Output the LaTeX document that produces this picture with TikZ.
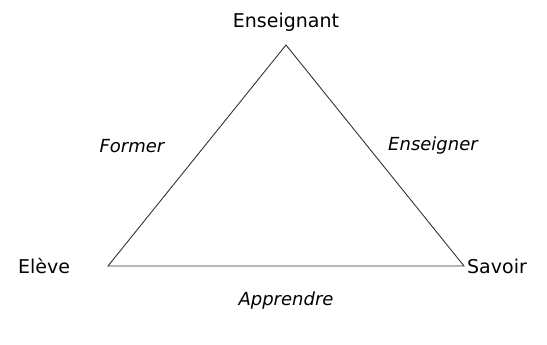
\documentclass[tikz,border=0pt]{standalone}
\usepackage{fontspec}
\setmainfont{DejaVu Sans}
\usepackage{tikz}
\usetikzlibrary{positioning}
\tikzstyle{pole}  = [font=\fontsize{19}{22}\selectfont, inner sep=0pt]
\tikzstyle{act}   = [font=\fontsize{18}{21}\selectfont\itshape, inner sep=0pt]
\tikzstyle{side}  = [draw=black!80, line width=0.9pt]

\begin{document}
\begin{tikzpicture}[x=1pt, y=-1pt]
\useasboundingbox (0,0) rectangle (547,345);

\coordinate (top)   at (286,45);
\coordinate (left)  at (108,266);
\coordinate (right) at (464,266);

\node (ens)  [pole] at (286,22)  {Enseignant};
\node (elv)  [pole] at (44,266)  {Elève};
\node (sav)  [pole] at (497,266) {Savoir};

\node (form) [act] at (132,146)  {Former};
\node (ensg) [act] at (433,146)  {Enseigner};
\node (app)  [act] at (286,301)  {Apprendre};

\draw [side] (top) -- (left) -- (right) -- cycle;

\end{tikzpicture}
\end{document}
